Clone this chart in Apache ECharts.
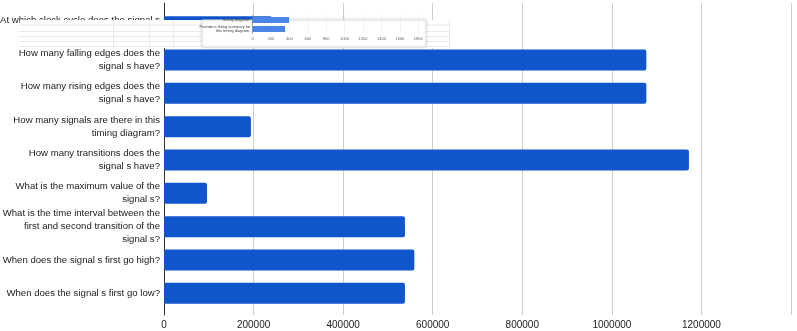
<!DOCTYPE html>
<html>
<head>
<meta charset="utf-8">
<script src="https://cdn.jsdelivr.net/npm/echarts@6/dist/echarts.min.js"></script>
<style>
html, body { margin: 0; padding: 0; background: #fff; }
#main { width: 797px; height: 331px; }
</style>
</head>
<body>
<div id="main"></div>
<script>
// main chart data
var categories = [
	'At which clock cycle does the signal s\nfirst go high?',
	'How many falling edges does the\nsignal s have?',
	'How many rising edges does the\nsignal s have?',
	'How many signals are there in this\ntiming diagram?',
	'How many transitions does the\nsignal s have?',
	'What is the maximum value of the\nsignal s?',
	'What is the time interval between the\nfirst and second transition of the\nsignal s?',
	'When does the signal s first go high?',
	'When does the signal s first go low?'
];
var values = [241000, 1077000, 1077000, 194000, 1172000, 96000, 538000, 559000, 538000];
var xTicks = { min: 0, max: 1400000, interval: 200000 };

// small pasted chart over the top
var miniCategories = ['timing diagram.', 'Provide a fitting summary for\nthis timing diagram.'];
var miniValues = [397, 353];
var miniTicks = { min: 0, max: 1800, interval: 200 };

var font = 'Liberation Sans, Arial, sans-serif';

// plain numbers, no thousands separator
function plain(value) {
	return value;
}

// table + panel behind the small chart
var deco = [
	{ type: 'rect', z: 3, shape: { x: 20, y: 20, width: 430, height: 28 }, style: { fill: '#fff' } },
	{ type: 'line', z: 3, shape: { x1: 20, y1: 25, x2: 450, y2: 25 }, style: { stroke: '#e9e9e9', lineWidth: 1 } },
	{ type: 'line', z: 3, shape: { x1: 20, y1: 31.5, x2: 450, y2: 31.5 }, style: { stroke: '#e9e9e9', lineWidth: 1 } },
	{ type: 'line', z: 3, shape: { x1: 20, y1: 36.5, x2: 450, y2: 36.5 }, style: { stroke: '#e9e9e9', lineWidth: 1 } },
	{ type: 'line', z: 3, shape: { x1: 20, y1: 41.5, x2: 450, y2: 41.5 }, style: { stroke: '#e9e9e9', lineWidth: 1 } },
	{ type: 'line', z: 3, shape: { x1: 20, y1: 46.5, x2: 450, y2: 46.5 }, style: { stroke: '#e9e9e9', lineWidth: 1 } },
	{ type: 'line', z: 3, shape: { x1: 113.5, y1: 20, x2: 113.5, y2: 48 }, style: { stroke: '#e9e9e9', lineWidth: 1 } },
	{ type: 'line', z: 3, shape: { x1: 149.5, y1: 20, x2: 149.5, y2: 48 }, style: { stroke: '#e9e9e9', lineWidth: 1 } },
	{ type: 'line', z: 3, shape: { x1: 173.5, y1: 20, x2: 173.5, y2: 48 }, style: { stroke: '#e9e9e9', lineWidth: 1 } },
	{ type: 'line', z: 3, shape: { x1: 449.5, y1: 20, x2: 449.5, y2: 48 }, style: { stroke: '#e9e9e9', lineWidth: 1 } },
	{ type: 'rect', z: 3, shape: { x: 202, y: 20, width: 224, height: 27 },
		style: { fill: '#fff', stroke: '#e4e4e4', lineWidth: 1, shadowBlur: 3, shadowColor: 'rgba(0,0,0,0.15)' } }
];

option = {
	backgroundColor: '#fff',
	animation: false,
	textStyle: { fontFamily: font },
	graphic: { elements: deco },
	grid: [
		// bars
		{ left: 164, right: 6, top: 10, bottom: 21, outerBoundsMode: 'none' },
		// gridlines, axis line, x labels
		{ left: 164, right: 6, top: 3, bottom: 16, outerBoundsMode: 'none' },
		// pasted mini chart
		{ left: 252.5, right: 378.7, top: 15.5, height: 18, z: 4, outerBoundsMode: 'none' }
	],
	xAxis: [
		{ gridIndex: 0, type: 'value', min: xTicks.min, max: xTicks.max, interval: xTicks.interval, show: false },
		{
			gridIndex: 1, type: 'value', min: xTicks.min, max: xTicks.max, interval: xTicks.interval,
			axisLine: { show: false }, axisTick: { show: false },
			splitLine: { show: true, lineStyle: { color: '#cccccc', width: 1 } },
			axisLabel: { color: '#222', fontSize: 10, margin: 5, showMaxLabel: false, fontFamily: font, formatter: plain }
		},
		{
			gridIndex: 2, type: 'value', min: miniTicks.min, max: miniTicks.max, interval: miniTicks.interval, z: 4,
			axisLine: { show: false }, axisTick: { show: false },
			splitLine: { show: true, lineStyle: { color: '#e6e6e6', width: 0.5 } },
			axisLabel: { color: '#666', fontSize: 4, margin: 3, fontFamily: font, formatter: plain }
		}
	],
	yAxis: [
		{
			gridIndex: 0, type: 'category', inverse: true, data: categories,
			axisLine: { show: false }, axisTick: { show: false },
			axisLabel: { color: '#222', fontSize: 9.6, lineHeight: 13, margin: 4, fontFamily: font }
		},
		{
			gridIndex: 1, type: 'value', min: 0, max: 1,
			axisLine: { show: true, lineStyle: { color: '#333', width: 1 } },
			axisTick: { show: false }, axisLabel: { show: false }, splitLine: { show: false }
		},
		{
			gridIndex: 2, type: 'category', inverse: true, data: miniCategories, z: 4,
			axisLine: { show: true, lineStyle: { color: '#444', width: 0.5 } },
			axisTick: { show: false },
			axisLabel: { color: '#444', fontSize: 4, lineHeight: 4.5, margin: 2, fontFamily: font }
		}
	],
	series: [
		{
			name: 'main',
			type: 'bar',
			xAxisIndex: 0,
			yAxisIndex: 0,
			data: values,
			barWidth: 21,
			itemStyle: { color: '#1155cc', borderRadius: 2 }
		},
		{
			name: 'mini',
			type: 'bar',
			xAxisIndex: 2,
			yAxisIndex: 2,
			z: 5,
			data: miniValues,
			barWidth: 6,
			itemStyle: { color: '#4a86e8' }
		}
	]
};

var chart = echarts.init(document.getElementById('main'));
chart.setOption(option);
</script>
</body>
</html>
